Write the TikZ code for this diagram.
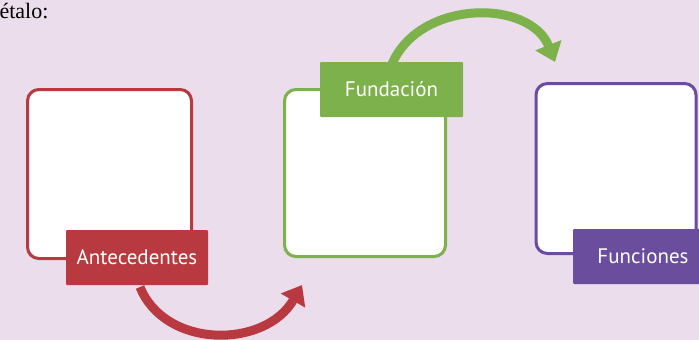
\documentclass[tikz,border=0pt]{standalone}
\usepackage{fontspec}
\setsansfont{PT Sans}
\setmainfont{Liberation Serif}
\usetikzlibrary{arrows.meta}
\definecolor{bgpink}{HTML}{EBDDEC}
\definecolor{antred}{HTML}{B83A40}
\definecolor{fundgreen}{HTML}{7DB14B}
\definecolor{funcpurple}{HTML}{6A4D9C}
\tikzset{
    framebox/.style = {
        rectangle,
        rounded corners=4mm,
        fill=white,
        line width=3pt,
        inner sep=0pt,
        outer sep=0pt
    },
    tagnode/.style = {
        rectangle,
        rounded corners=1pt,
        text=white,
        font=\sffamily\fontsize{21}{24}\selectfont,
        minimum height=55pt,
        inner sep=0pt,
        outer sep=0pt
    },
    bendarrow/.style = {
        line width=9pt,
        -{Triangle[length=18pt,width=27pt]}
    }
}

\begin{document}
\begin{tikzpicture}[x=1pt,y=-1pt]
    \fill [bgpink] (0,0) rectangle (699,340);
    \useasboundingbox (0,0) rectangle (699,340);

    \node [anchor=base west, font=\rmfamily\fontsize{22}{24}\selectfont] (intro) at (-4,19) {étalo:};

    % cuadros
    \node [framebox, draw=antred, minimum width=164pt, minimum height=169pt] (antbox) at (109.5,174) {};
    \node [framebox, draw=fundgreen, minimum width=161pt, minimum height=167pt] (fundbox) at (365,173) {};
    \node [framebox, draw=funcpurple, minimum width=160pt, minimum height=170pt] (funcbox) at (616,168.5) {};

    % flechas
    \coordinate (redstart) at (140,287);
    \coordinate (redend) at (302,285);
    \coordinate (greenstart) at (392,64);
    \coordinate (greenend) at (555,62);
    \draw [bendarrow, antred] (redstart) .. controls (165,349) and (265,349) .. (redend);
    \draw [bendarrow, fundgreen] (greenstart) .. controls (420,-1) and (530,-1) .. (greenend);

    % etiquetas
    \node [tagnode, fill=antred, minimum width=142pt] (anttag) at (137,257.5) {Antecedentes};
    \node [tagnode, fill=fundgreen, minimum width=143pt] (fundtag) at (391.5,89.5) {Fundación};
    \node [tagnode, fill=funcpurple, minimum width=140pt] (functag) at (643,256.5) {Funciones};
\end{tikzpicture}
\end{document}
